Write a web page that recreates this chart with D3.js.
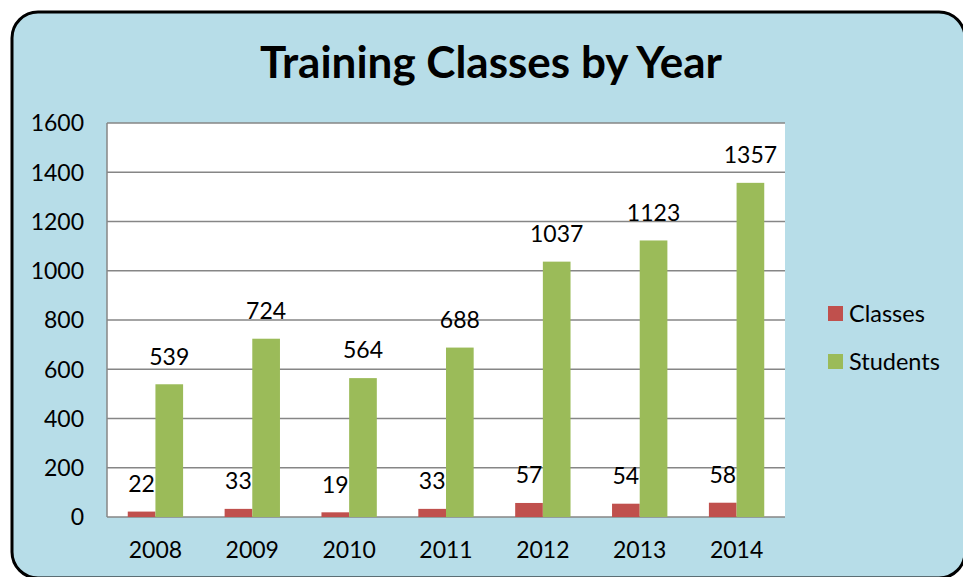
<!DOCTYPE html>
<html>
<head>
<meta charset="utf-8">
<script src="https://cdn.jsdelivr.net/npm/d3@7"></script>
<style>
  body { margin: 0; background: #fff; }
  text { font-family: Lato, "Open Sans", sans-serif; fill: #000; }
</style>
</head>
<body>
<div id="chart"></div>
<script>
// Data
const years = ['2008', '2009', '2010', '2011', '2012', '2013', '2014'];
const classes = [22, 33, 19, 33, 57, 54, 58];
const students = [539, 724, 564, 688, 1037, 1123, 1357];
const yTicks = [0, 200, 400, 600, 800, 1000, 1200, 1400, 1600];
const seriesNames = ['Classes', 'Students'];

const colors = { Classes: '#c0504d', Students: '#9bbb59' };

const W = 963, H = 577;
const plot = { left: 107, top: 123, right: 785, bottom: 517 };

const svg = d3.select('#chart').append('svg')
  .attr('width', W)
  .attr('height', H);

// Chart background with rounded border
svg.append('rect')
  .attr('x', 12).attr('y', 12)
  .attr('width', 953).attr('height', 566)
  .attr('rx', 26).attr('ry', 26)
  .style('fill', '#b7dde8')
  .style('stroke', '#000')
  .style('stroke-width', 3);

// Title
svg.append('text')
  .attr('x', 491).attr('y', 78)
  .style('text-anchor', 'middle')
  .style('font-size', '44px')
  .style('font-weight', 'bold')
  .text('Training Classes by Year');

// Plot area
svg.append('rect')
  .attr('x', plot.left).attr('y', plot.top)
  .attr('width', plot.right - plot.left)
  .attr('height', plot.bottom - plot.top)
  .style('fill', '#fff');

const x = d3.scaleBand()
  .domain(years)
  .range([plot.left, plot.right]);

const y = d3.scaleLinear()
  .domain([0, 1600])
  .range([plot.bottom, plot.top]);

// gap width 150% like the spreadsheet chart
const barW = x.bandwidth() / 3.5;

// Gridlines
svg.append('g')
  .selectAll('line')
  .data(yTicks)
  .enter().append('line')
  .attr('x1', plot.left).attr('x2', plot.right)
  .attr('y1', d => y(d)).attr('y2', d => y(d))
  .style('stroke', '#868686')
  .style('stroke-width', 1.5);

// Axis lines
svg.append('line')
  .attr('x1', plot.left).attr('x2', plot.left)
  .attr('y1', plot.top).attr('y2', plot.bottom)
  .style('stroke', '#868686').style('stroke-width', 1.5);

// Y axis labels
svg.append('g')
  .selectAll('text')
  .data(yTicks)
  .enter().append('text')
  .attr('x', 84)
  .attr('y', d => y(d))
  .attr('dy', '0.36em')
  .style('text-anchor', 'end')
  .style('font-size', '23px')
  .text(d => d);

// X axis labels
svg.append('g')
  .selectAll('text')
  .data(years)
  .enter().append('text')
  .attr('x', d => x(d) + x.bandwidth() / 2)
  .attr('y', 550)
  .attr('dy', '0.36em')
  .style('text-anchor', 'middle')
  .style('font-size', '23px')
  .text(d => d);

// Bars and labels
const series = [classes, students];
series.forEach((vals, si) => {
  const name = seriesNames[si];
  const g = svg.append('g').attr('class', 'series-' + name.toLowerCase());
  const bx = (d, i) => x(years[i]) + x.bandwidth() / 2 - barW + si * barW;

  g.selectAll('rect')
    .data(vals)
    .enter().append('rect')
    .attr('x', bx)
    .attr('y', d => y(d))
    .attr('width', barW)
    .attr('height', d => plot.bottom - y(d))
    .style('fill', colors[name]);

  g.selectAll('text')
    .data(vals)
    .enter().append('text')
    .attr('x', (d, i) => bx(d, i) + barW / 2)
    .attr('y', d => y(d) - 28)
    .attr('dy', '0.36em')
    .style('text-anchor', 'middle')
    .style('font-size', '23px')
    .text(d => d);
});

// Legend
const legend = svg.selectAll('.legend')
  .data(seriesNames)
  .enter().append('g')
  .attr('class', 'legend')
  .attr('transform', (d, i) => `translate(828, ${306 + i * 48})`);

legend.append('rect')
  .attr('width', 15).attr('height', 15)
  .style('fill', d => colors[d]);

legend.append('text')
  .attr('x', 21).attr('y', 8)
  .attr('dy', '0.36em')
  .style('font-size', '23.5px')
  .text(d => d);
</script>
</body>
</html>
